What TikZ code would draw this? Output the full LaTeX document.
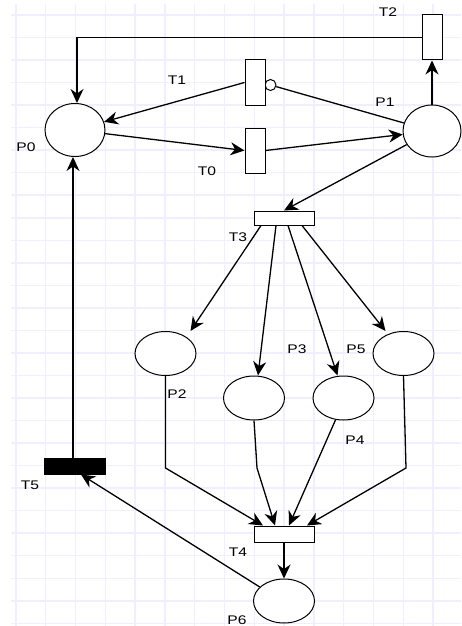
\documentclass[tikz,border=0pt]{standalone}
\usepackage{fontspec}
\setmainfont[FakeStretch=1.25]{Liberation Sans}
\usetikzlibrary{shapes.geometric,arrows.meta}
\definecolor{gridcol}{RGB}{240,238,255}
\begin{document}
\begin{tikzpicture}[x=1pt,y=-1pt,
  place/.style={ellipse,draw,fill=white,line width=1pt,inner sep=0pt,minimum width=61pt,minimum height=44pt},
  trans/.style={rectangle,draw,fill=white,line width=1pt,inner sep=0pt},
  vtrans/.style={trans,minimum width=20pt,minimum height=45pt},
  htrans/.style={trans,minimum width=60pt,minimum height=15pt},
  lbl/.style={inner sep=0pt,font=\fontsize{12.5}{14}\selectfont},
  arc/.style={line width=1.3pt,-{Stealth[length=14pt,width=13pt,inset=4.5pt]}},
  plain/.style={line width=1.3pt},
  gridline/.style={draw=gridcol,line width=1.5pt}]
\useasboundingbox (0,0) rectangle (461,626);
% grid
\foreach \i in {0,...,14} \draw[gridline] ({15.9+29.8*\i},4) -- ({15.9+29.8*\i},626);
\foreach \j in {0,...,27} \draw[gridline] (11,{15+22.53*\j}) -- (461,{15+22.53*\j});
% places
\node[place,minimum width=60pt,minimum height=53pt] (P0) at (75,130) {};
\node[place,minimum width=58pt,minimum height=52pt] (P1) at (432,131) {};
\node[place] (P2) at (165.5,353.5) {};
\node[place] (P3) at (254,398) {};
\node[place] (P4) at (343.5,398) {};
\node[place] (P5) at (403.5,353.5) {};
\node[place] (P6) at (284,601) {};
% transitions
\node[circle,draw,fill=white,line width=1pt,inner sep=0pt,minimum size=11pt] (inh) at (270.5,85) {};
\node[vtrans] (T2) at (432,37.5) {};
\node[vtrans] (T1) at (255,82.5) {};
\node[vtrans] (T0) at (255,150.5) {};
\node[htrans,minimum height=14pt] (T3) at (284,218) {};
\node[htrans,minimum height=16pt] (T4) at (284,534) {};
\node[trans,fill=black,minimum width=61pt,minimum height=16pt] (T5) at (75,466) {};
% bend points
\coordinate (b2) at (165.5,468);
\coordinate (b3) at (257,468);
\coordinate (b5) at (406,468);
% arcs
\draw[arc] (T2.west) -| ([xshift=2pt]P0.north);
\draw[arc] (T1.west) -- (P0);
\draw[arc] (P0) -- (T0.west);
\draw[arc] (T0.east) -- (P1);
\draw[plain] (P1) -- (inh);
\draw[arc] (P1.north) -- (T2.south);
\draw[arc] (P1) -- (T3.north);
\draw[arc] ([xshift=-23pt]T3.south) -- ([xshift=25pt]P2.north);
\draw[arc] ([xshift=-8pt]T3.south) -- ([xshift=4pt]P3.north);
\draw[arc] ([xshift=4pt]T3.south) -- ([xshift=-6pt]P4.north);
\draw[arc] ([xshift=18pt]T3.south) -- ([xshift=-18pt]P5.north);
\draw[arc] (P2.south) -- (b2) -- ([xshift=-21pt]T4.north);
\draw[arc] (P3.south) -- (b3) -- ([xshift=-9pt]T4.north);
\draw[arc] (P4.250) -- ([xshift=5pt]T4.north);
\draw[arc] (P5.south) -- (b5) -- ([xshift=23pt]T4.north);
\draw[arc] (T4.south) -- (P6.north);
\draw[arc] (P6.150) -- ([xshift=6pt]T5.south);
\draw[arc] ([xshift=-2pt]T5.north) -- ([xshift=-2pt]P0.south);
% labels
\node[lbl] (lT2) at (388,12) {T2};
\node[lbl] (lT1) at (177,80) {T1};
\node[lbl] (lP1) at (385,102) {P1};
\node[lbl] (lP0) at (26,147) {P0};
\node[lbl] (lT0) at (207,171) {T0};
\node[lbl] (lT3) at (238,237) {T3};
\node[lbl] (lP3) at (297,349) {P3};
\node[lbl] (lP5) at (356,349) {P5};
\node[lbl] (lP2) at (177,394) {P2};
\node[lbl] (lP4) at (355,440) {P4};
\node[lbl] (lT5) at (30,485) {T5};
\node[lbl] (lT4) at (238,552) {T4};
\node[lbl] (lP6) at (237,620) {P6};
\end{tikzpicture}
\end{document}
